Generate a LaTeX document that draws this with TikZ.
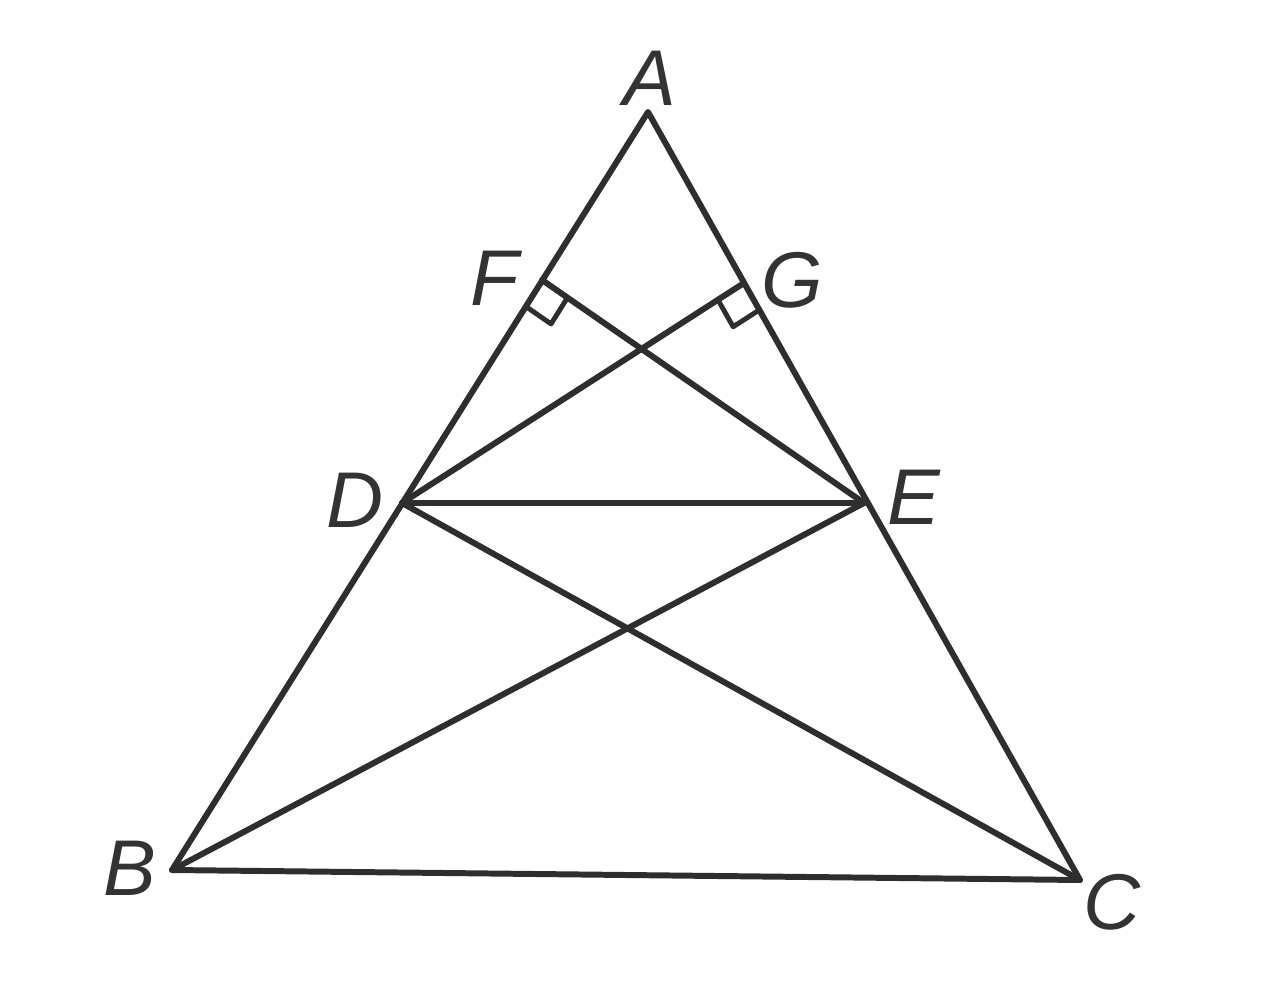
\documentclass[tikz,border=0pt]{standalone}
\usepackage{fontspec}
\setsansfont{Liberation Sans}
\usetikzlibrary{calc}
\tikzset{lbl/.style={font=\fontsize{45}{54}\selectfont\sffamily\itshape,text=black!80,inner sep=0pt}}
\begin{document}
\begin{tikzpicture}[x=0.02cm,y=-0.02cm,line width=3.4pt,black!82,line join=round,line cap=round]
\useasboundingbox (0,0) rectangle (1280,999);
\coordinate (A) at (648,112);
\coordinate (B) at (172,870);
\coordinate (C) at (1080,880);
\coordinate (D) at (402,503);
\coordinate (E) at (864,503);
\coordinate (F) at (542,280);
\coordinate (G) at (744,283);
% triangle
\draw (A) -- (B) -- (C) -- cycle;
% inner lines
\draw (D) -- (E);
\draw (D) -- (C);
\draw (B) -- (E);
\draw (F) -- (E);
\draw (D) -- (G);
% right angles
\coordinate (f1) at ($(F)!0.62cm!(B)$);
\coordinate (f2) at ($(F)!0.62cm!(E)$);
\draw[line width=2.8pt] (f1) -- ($(f1)+(f2)-(F)$) -- (f2);
\coordinate (g1) at ($(G)!0.62cm!(C)$);
\coordinate (g2) at ($(G)!0.62cm!(D)$);
\draw[line width=2.8pt] (g1) -- ($(g1)+(g2)-(G)$) -- (g2);
% labels
\node[lbl] (lA) at (650,78) {A};
\node[lbl] (lF) at (495,278) {F};
\node[lbl] (lG) at (792,280) {G};
\node[lbl] (lD) at (355,500) {D};
\node[lbl] (lE) at (914,497) {E};
\node[lbl] (lB) at (130,868) {B};
\node[lbl] (lC) at (1112,902) {C};
\end{tikzpicture}
\end{document}
